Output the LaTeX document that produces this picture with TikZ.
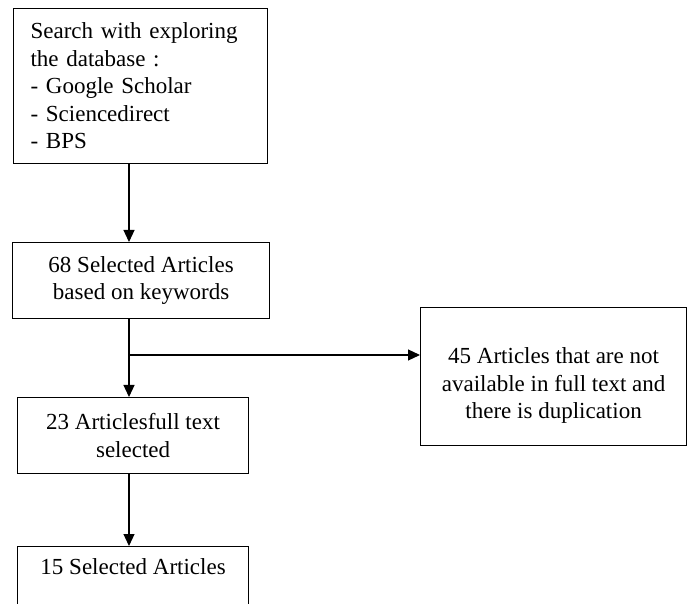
\documentclass[tikz,border=0pt]{standalone}
\usepackage{fontspec}
\setmainfont{Liberation Serif}
\usetikzlibrary{arrows.meta}

\begin{document}
\begin{tikzpicture}[x=1pt,y=-1pt,line width=1.2pt,
  >={Triangle[length=12pt,width=11pt]},
  font=\fontsize{23}{27.5}\selectfont,
  box/.style={draw,anchor=north west,inner sep=0pt,align=center}]
  \useasboundingbox (0,0) rectangle (689,604);
  % boxes
  \node[box,align=left,text width=220,minimum width=252,minimum height=155,inner xsep=17] (search) at (13,8)
    {Search with exploring\\the database :\\- Google Scholar\\- Sciencedirect\\- BPS};
  \node[box,minimum width=257,minimum height=76] (sel68) at (12,242) {68 Selected Articles\\based on keywords};
  \node[box,minimum width=266,minimum height=138] (excl) at (420,307) {\rule{0pt}{34pt}45 Articles that are not\\available in full text and\\there is duplication};
  \node[box,minimum width=231,minimum height=76] (full23) at (17,397) {23 Articlesfull text\\selected};
  \node[box,minimum width=231,minimum height=76] (sel15) at (17,546) {15 Selected Articles\\\strut};
  % arrows
  \coordinate (spine) at (129,0);
  \coordinate (fork) at (129,355);
  \draw[->] (search.south -| spine) -- (sel68.north -| spine);
  \draw[->] (sel68.south -| spine) -- (full23.north -| spine);
  \draw[->] (fork) -- (fork -| excl.west);
  \draw[->] (full23.south -| spine) -- (sel15.north -| spine);
\end{tikzpicture}
\end{document}
